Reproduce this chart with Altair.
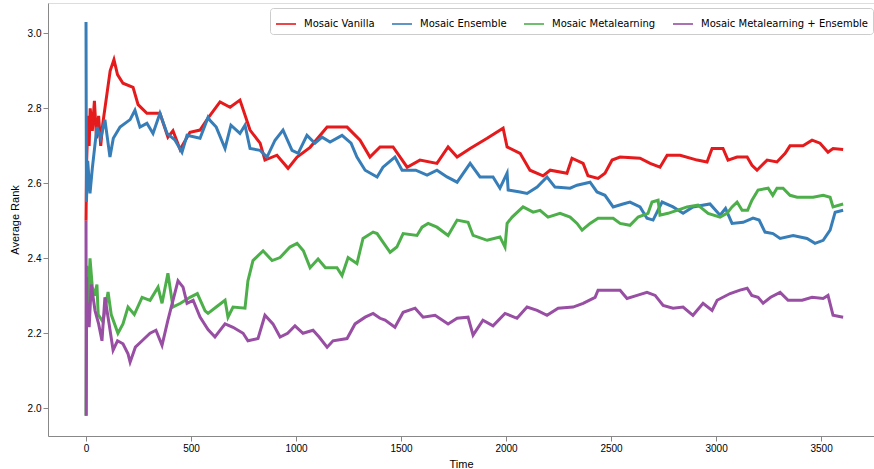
import altair as alt
import pandas as pd

series_names = ["Mosaic Vanilla", "Mosaic Ensemble", "Mosaic Metalearning",
                "Mosaic Metalearning + Ensemble"]
series_colors = ["#e41a1c", "#377eb8", "#4daf4a", "#984ea3"]

vanilla_t = [0, 3, 10, 15, 20, 30, 40, 50, 60, 70, 80, 90, 100, 115, 133, 150, 176, 224, 248, 290,
             352, 390, 414, 448, 495, 543, 581, 638, 686, 733, 781, 829, 852, 909, 962, 1005, 1067,
             1148, 1243, 1305, 1352, 1400, 1462, 1529, 1590, 1671, 1724, 1767, 1829, 1910, 1986,
             2005, 2067, 2114, 2176, 2210, 2290, 2314, 2367, 2390, 2438, 2471, 2505, 2543, 2638,
             2686, 2733, 2767, 2829, 2910, 2957, 2981, 3033, 3057, 3100, 3148, 3171, 3195, 3243,
             3290, 3329, 3352, 3414, 3457, 3495, 3533, 3557, 3605]
vanilla_v = [2.5, 2.66, 2.78, 2.70, 2.80, 2.74, 2.82, 2.72, 2.78, 2.70, 2.76, 2.80, 2.84, 2.90, 2.93,
             2.89, 2.867, 2.856, 2.81, 2.787, 2.787, 2.723, 2.74, 2.69, 2.736, 2.742, 2.774, 2.817,
             2.803, 2.822, 2.742, 2.707, 2.662, 2.675, 2.64, 2.67, 2.696, 2.75, 2.75, 2.715, 2.67,
             2.697, 2.697, 2.643, 2.662, 2.653, 2.697, 2.67, 2.693, 2.72, 2.747, 2.697, 2.68, 2.635,
             2.62, 2.635, 2.627, 2.667, 2.653, 2.62, 2.613, 2.627, 2.662, 2.67, 2.667, 2.653, 2.643,
             2.675, 2.675, 2.662, 2.657, 2.693, 2.693, 2.662, 2.67, 2.67, 2.648, 2.635, 2.662, 2.657,
             2.68, 2.70, 2.70, 2.715, 2.707, 2.683, 2.693, 2.69]

ensemble_t = [0, 2, 8, 19, 30, 40, 52, 70, 90, 114, 130, 162, 210, 233, 257, 290, 319, 352, 386,
              424, 457, 481, 543, 581, 590, 620, 662, 690, 733, 757, 781, 829, 862, 900, 938, 981,
              1010, 1052, 1090, 1124, 1162, 1219, 1262, 1290, 1329, 1386, 1414, 1471, 1505, 1570,
              1624, 1671, 1719, 1767, 1829, 1876, 1938, 1971, 2005, 2010, 2067, 2100, 2148, 2195,
              2233, 2305, 2338, 2400, 2433, 2471, 2510, 2557, 2590, 2638, 2671, 2700, 2743, 2795,
              2843, 2890, 2971, 3019, 3045, 3076, 3129, 3176, 3205, 3233, 3271, 3305, 3367, 3433,
              3471, 3510, 3543, 3567, 3605]
ensemble_v = [3.03, 2.55, 2.66, 2.573, 2.64, 2.69, 2.75, 2.72, 2.77, 2.67, 2.72, 2.75, 2.77, 2.795,
              2.75, 2.76, 2.733, 2.787, 2.733, 2.715, 2.683, 2.728, 2.72, 2.776, 2.768, 2.75, 2.693,
              2.755, 2.733, 2.755, 2.693, 2.688, 2.67, 2.715, 2.742, 2.688, 2.68, 2.728, 2.707,
              2.723, 2.71, 2.728, 2.707, 2.67, 2.635, 2.617, 2.643, 2.67, 2.635, 2.635, 2.622, 2.635,
              2.617, 2.603, 2.653, 2.617, 2.617, 2.587, 2.627, 2.582, 2.577, 2.573, 2.59, 2.617,
              2.59, 2.587, 2.595, 2.603, 2.577, 2.568, 2.537, 2.545, 2.55, 2.537, 2.507, 2.502, 2.55,
              2.537, 2.52, 2.537, 2.545, 2.515, 2.533, 2.493, 2.496, 2.507, 2.502, 2.47, 2.466,
              2.453, 2.461, 2.453, 2.44, 2.448, 2.475, 2.523, 2.528]

meta_t = [0, 3, 10, 19, 30, 40, 52, 58, 81, 105, 120, 152, 176, 200, 230, 267, 305, 343, 362, 390,
          414, 450, 495, 530, 567, 581, 620, 662, 676, 700, 757, 771, 795, 843, 886, 924, 971, 1005,
          1035, 1067, 1105, 1140, 1195, 1219, 1248, 1290, 1319, 1367, 1386, 1414, 1448, 1480, 1510,
          1576, 1600, 1629, 1671, 1724, 1767, 1819, 1843, 1910, 1971, 1995, 2005, 2029, 2081, 2129,
          2162, 2200, 2257, 2305, 2338, 2362, 2400, 2438, 2510, 2543, 2590, 2629, 2676, 2695, 2724,
          2733, 2771, 2814, 2862, 2914, 2962, 3019, 3052, 3076, 3100, 3124, 3150, 3171, 3200, 3248,
          3270, 3290, 3319, 3352, 3386, 3462, 3510, 3543, 3557, 3605]
meta_v = [1.98, 2.38, 2.25, 2.40, 2.323, 2.30, 2.33, 2.25, 2.23, 2.31, 2.25, 2.20, 2.225, 2.27,
          2.25, 2.296, 2.288, 2.323, 2.28, 2.36, 2.27, 2.28, 2.296, 2.306, 2.26, 2.253, 2.27, 2.288,
          2.243, 2.27, 2.267, 2.34, 2.394, 2.42, 2.394, 2.402, 2.43, 2.44, 2.42, 2.375, 2.398,
          2.375, 2.375, 2.354, 2.402, 2.386, 2.453, 2.47, 2.466, 2.443, 2.416, 2.43, 2.466, 2.461,
          2.483, 2.493, 2.483, 2.461, 2.502, 2.496, 2.461, 2.448, 2.457, 2.43, 2.493, 2.51, 2.537,
          2.523, 2.528, 2.51, 2.52, 2.51, 2.493, 2.475, 2.493, 2.507, 2.507, 2.493, 2.488, 2.51,
          2.52, 2.55, 2.555, 2.515, 2.52, 2.528, 2.537, 2.542, 2.52, 2.51, 2.52, 2.537, 2.55, 2.528,
          2.528, 2.555, 2.582, 2.587, 2.568, 2.587, 2.587, 2.568, 2.563, 2.563, 2.568, 2.563,
          2.537, 2.545]

metaens_t = [0, 1, 3, 6, 10, 15, 25, 43, 60, 76, 90, 110, 129, 150, 176, 200, 210, 235, 267, 305,
             333, 362, 390, 438, 462, 481, 510, 543, 581, 614, 662, 700, 748, 771, 819, 852, 890,
             924, 960, 995, 1033, 1081, 1110, 1148, 1176, 1243, 1281, 1329, 1367, 1400, 1424, 1471,
             1510, 1567, 1605, 1662, 1724, 1767, 1819, 1843, 1890, 1938, 1995, 2052, 2100, 2148,
             2195, 2248, 2319, 2367, 2424, 2438, 2543, 2576, 2624, 2671, 2710, 2748, 2795, 2843,
             2890, 2938, 2981, 3005, 3067, 3114, 3148, 3170, 3200, 3224, 3260, 3305, 3343, 3410,
             3457, 3510, 3533, 3557, 3605]
metaens_v = [2.5, 1.98, 2.35, 2.22, 2.28, 2.216, 2.33, 2.26, 2.225, 2.18, 2.296, 2.225, 2.155, 2.18,
             2.172, 2.145, 2.123, 2.163, 2.18, 2.2, 2.208, 2.168, 2.235, 2.34, 2.323, 2.28, 2.288,
             2.243, 2.21, 2.19, 2.225, 2.216, 2.2, 2.18, 2.186, 2.248, 2.225, 2.19, 2.2, 2.22, 2.2,
             2.208, 2.19, 2.163, 2.18, 2.186, 2.225, 2.243, 2.253, 2.24, 2.235, 2.216, 2.256, 2.267,
             2.243, 2.248, 2.225, 2.24, 2.243, 2.195, 2.235, 2.22, 2.253, 2.24, 2.27, 2.261, 2.248,
             2.267, 2.27, 2.28, 2.296, 2.315, 2.315, 2.293, 2.301, 2.309, 2.301, 2.274, 2.267, 2.27,
             2.248, 2.28, 2.261, 2.288, 2.306, 2.315, 2.32, 2.301, 2.296, 2.28, 2.296, 2.309, 2.288,
             2.288, 2.296, 2.293, 2.301, 2.248, 2.243]

x_ticks = [0, 500, 1000, 1500, 2000, 2500, 3000, 3500]
y_ticks = [2.0, 2.2, 2.4, 2.6, 2.8, 3.0]

frames = []
for i, (name, ts, vs) in enumerate(zip(series_names,
                                       [vanilla_t, ensemble_t, meta_t, metaens_t],
                                       [vanilla_v, ensemble_v, meta_v, metaens_v])):
    frames.append(pd.DataFrame({"Time": ts, "Average Rank": vs, "Series": name, "order": i}))
df = pd.concat(frames, ignore_index=True)

FONT = "DejaVu Sans"

chart = alt.Chart(df).mark_line(
    strokeWidth=3, interpolate="linear", clip=True
).encode(
    x=alt.X("Time:Q",
            scale=alt.Scale(domain=[-181, 3752], nice=False, zero=False),
            axis=alt.Axis(values=x_ticks, title="Time", format="d", grid=False,
                          titlePadding=5, titleFontWeight="normal")),
    y=alt.Y("Average Rank:Q",
            scale=alt.Scale(domain=[1.926, 3.081], nice=False, zero=False),
            axis=alt.Axis(values=y_ticks, title="Average Rank", format=".1f", grid=False,
                          titlePadding=7, titleFontWeight="normal")),
    color=alt.Color("Series:N",
                    scale=alt.Scale(domain=series_names, range=series_colors),
                    sort=series_names,
                    legend=alt.Legend(
                        title=None, orient="none", legendX=222, legendY=5,
                        direction="horizontal", symbolType="stroke", symbolSize=400,
                        symbolStrokeWidth=2, symbolOpacity=0.8, labelOffset=7,
                        columnPadding=13, padding=5, strokeColor="#cccccc",
                        cornerRadius=3, fillColor="white", labelFont=FONT,
                        labelFontSize=10, labelColor="#000000", labelLimit=400)),
    detail="order:N",
    order="order:Q",
).properties(
    width=826, height=433,
    autosize=alt.AutoSizeParams(type="none"),
    padding={"left": 48, "top": 3, "right": 0, "bottom": 33},
).configure_view(
    stroke="#000000", strokeWidth=0.8
).configure_axis(
    domainColor="#000000", domainWidth=0.8, tickColor="#000000", tickWidth=0.8,
    tickSize=3.5, labelPadding=3, labelFont=FONT, labelFontSize=10,
    labelColor="#222222", titleFont=FONT, titleFontSize=10, titleFontWeight="normal",
    titleColor="#000000",
).configure(background="white")

chart.save("out.html", embed_options={"renderer": "svg", "actions": False})
